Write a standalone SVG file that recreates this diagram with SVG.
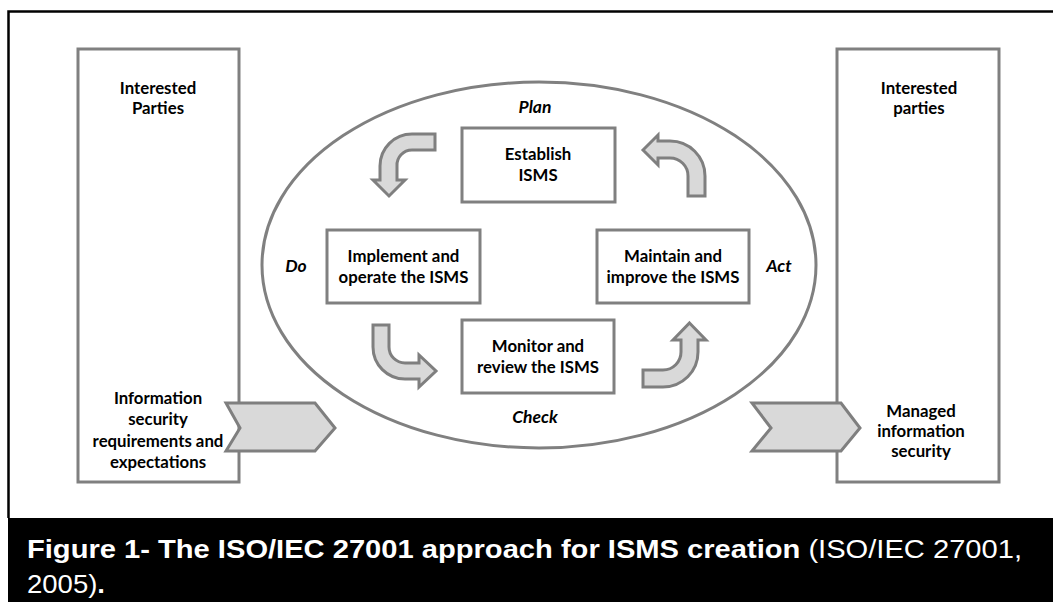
<svg xmlns="http://www.w3.org/2000/svg" width="1053" height="602" viewBox="0 0 1053 602">
<style>
.box{fill:#fff;stroke:#808080;stroke-width:3}
.arr{fill:#d9d9d9;stroke:#7f7f7f;stroke-width:3;stroke-linejoin:miter}
.t{font-family:Lato,"Liberation Sans",sans-serif;font-weight:bold;font-size:16.8px;fill:#000;text-anchor:middle}
.it{font-style:italic;font-size:17.5px}
.cap{font-family:"Liberation Sans",Arial,sans-serif;font-size:26px;fill:#fff}
</style>
<rect x="0" y="0" width="1053" height="602" fill="#fff"/>
<path d="M8.5,518 V11.5 H1053" fill="none" stroke="#000" stroke-width="2.5"/>
<g id="left-party">
<rect class="box" x="78" y="49" width="161" height="433"/>
<text class="t" x="158" y="94">Interested</text>
<text class="t" x="158" y="114">Parties</text>
<text class="t" x="158" y="404">Information</text>
<text class="t" x="158" y="425">security</text>
<text class="t" x="158" y="447">requirements and</text>
<text class="t" x="158" y="468">expectations</text>
</g>
<g id="right-party">
<rect class="box" x="837" y="49" width="162" height="433"/>
<text class="t" x="919" y="94">Interested</text>
<text class="t" x="919" y="114">parties</text>
<text class="t" x="921" y="417">Managed</text>
<text class="t" x="921" y="437">information</text>
<text class="t" x="921" y="457">security</text>
</g>
<g id="cycle">
<ellipse cx="539" cy="265" rx="277" ry="183" fill="none" stroke="#808080" stroke-width="3"/>
<text class="t it" x="535" y="113">Plan</text>
<text class="t it" x="296" y="272">Do</text>
<text class="t it" x="779" y="272">Act</text>
<text class="t it" x="535" y="423">Check</text>
</g>
<g id="establish">
<rect class="box" x="462" y="128" width="153" height="74"/>
<text class="t" x="538" y="160">Establish</text>
<text class="t" x="538" y="181">ISMS</text>
</g>
<g id="implement">
<rect class="box" x="327" y="230" width="153" height="73"/>
<text class="t" x="403.5" y="262">Implement and</text>
<text class="t" x="403.5" y="283">operate the ISMS</text>
</g>
<g id="maintain">
<rect class="box" x="597" y="230" width="152" height="73"/>
<text class="t" x="673" y="262">Maintain and</text>
<text class="t" x="673" y="283">improve the ISMS</text>
</g>
<g id="monitor">
<rect class="box" x="462" y="320" width="152" height="73"/>
<text class="t" x="538" y="352">Monitor and</text>
<text class="t" x="538" y="373">review the ISMS</text>
</g>
<g id="connectors">
<path class="arr" d="M435,134 L412,134 A32,32 0 0 0 380,166 L380,180 L373,180 L389,196 L405,180 L397,180 L397,166 A15,15 0 0 1 412,150 L435,150 Z"/>
<path class="arr" d="M643,150 L658,135 L658,141 L670,141 A35,35 0 0 1 705,176 L705,196 L688,196 L688,176 A18,18 0 0 0 670,158 L658,158 L658,165 Z"/>
<path class="arr" d="M373,325 L389,325 L389,347 A16,16 0 0 0 405,363 L419,363 L419,355 L436,371 L419,387 L419,379 L405,379 A32,32 0 0 1 373,347 Z"/>
<path class="arr" d="M689.5,323 L706,340 L698,340 L698,352 A35,35 0 0 1 663,387 L643,387 L643,370 L663,370 A18,18 0 0 0 681,352 L681,340 L673,340 Z"/>
<path class="arr" d="M226,403 L315,403 L335,428 L315,451 L226,451 L240,428 Z"/>
<path class="arr" d="M752,403 L841,403 L860,428 L841,451 L752,451 L771,428 Z"/>
</g>
<g id="caption">
<rect x="8" y="518" width="1045" height="84" fill="#000"/>
<text class="cap" x="27" y="558" textLength="995" lengthAdjust="spacingAndGlyphs"><tspan font-weight="bold">Figure 1- The ISO/IEC 27001 approach for ISMS creation</tspan> (ISO/IEC 27001,</text>
<text class="cap" x="27" y="593" textLength="78" lengthAdjust="spacingAndGlyphs">2005)<tspan font-weight="bold">.</tspan></text>
</g>
</svg>
